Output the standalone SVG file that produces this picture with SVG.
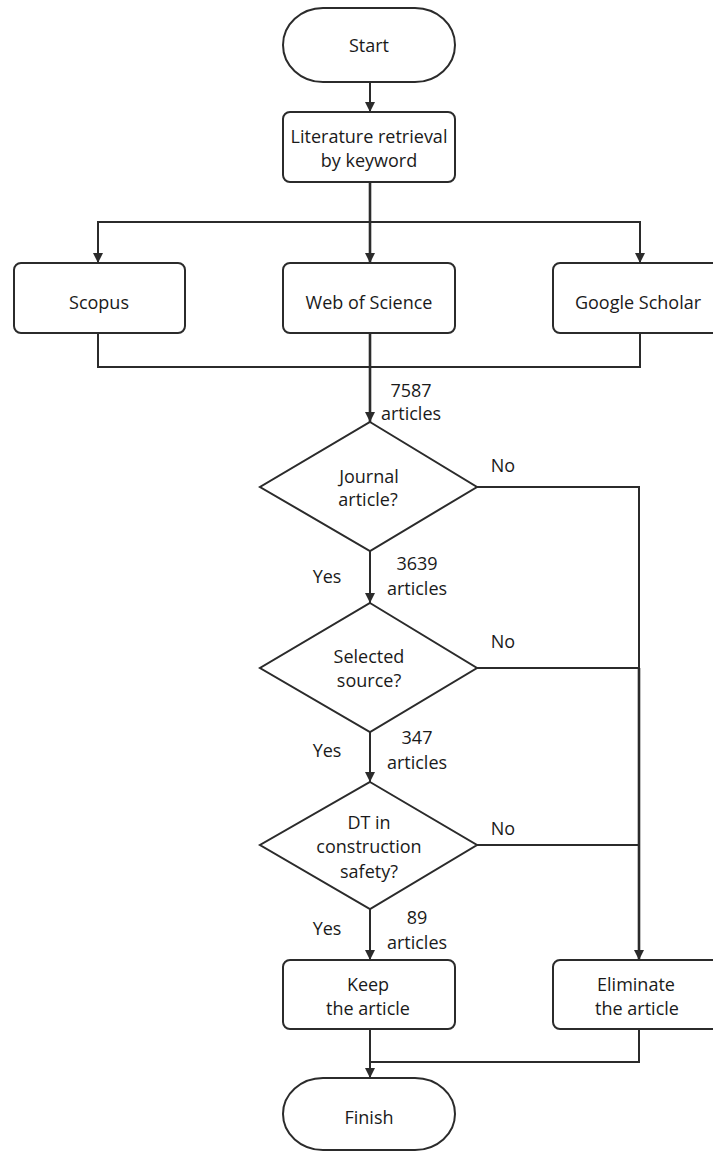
<svg xmlns="http://www.w3.org/2000/svg" width="713" height="1153" viewBox="0 0 713 1153">
<style>
.box{fill:#fff;stroke:#2b2b2b;stroke-width:2}
.ln{fill:none;stroke:#2b2b2b;stroke-width:2}
.thk{stroke-width:2.6}
text{font-family:"Open Sans","Noto Sans","Liberation Sans",sans-serif;font-size:18px;fill:#1a1a1a;text-anchor:middle}
</style>
<defs>
<marker id="ah" viewBox="0 0 10 10" refX="10" refY="5" markerWidth="10" markerHeight="10" markerUnits="userSpaceOnUse" orient="auto">
<path d="M0,0 L10,5 L0,10 Z" fill="#2b2b2b"/>
</marker>
</defs>
<rect width="713" height="1153" fill="#fff"/>
<g id="connectors">
<path class="ln" d="M370,82 V112" marker-end="url(#ah)"/>
<path class="ln thk" d="M370,182 V263" marker-end="url(#ah)"/>
<path class="ln" d="M98,263 V222 H640 V263" />
<path class="ln" d="M98,253 V263" marker-end="url(#ah)"/>
<path class="ln" d="M640,253 V263" marker-end="url(#ah)"/>
<path class="ln" d="M98,333 V367 H640 V333"/>
<path class="ln thk" d="M370,333 V422" marker-end="url(#ah)"/>
<path class="ln" d="M370,551 V603" marker-end="url(#ah)"/>
<path class="ln" d="M370,732 V782" marker-end="url(#ah)"/>
<path class="ln" d="M370,909 V960" marker-end="url(#ah)"/>
<path class="ln" d="M477,487 H639 V668"/>
<path class="ln thk" d="M639,668 V960" marker-end="url(#ah)"/>
<path class="ln" d="M477,668 H639"/>
<path class="ln" d="M477,845 H639"/>
<path class="ln" d="M370,1029 V1078" marker-end="url(#ah)"/>
<path class="ln" d="M639,1029 V1062 H370"/>
<text x="411" y="397">7587</text>
<text x="411" y="420">articles</text>
<text x="503" y="472">No</text>
<text x="327" y="583">Yes</text>
<text x="417" y="570">3639</text>
<text x="417" y="595">articles</text>
<text x="503" y="648">No</text>
<text x="327" y="757">Yes</text>
<text x="417" y="744">347</text>
<text x="417" y="769">articles</text>
<text x="503" y="835">No</text>
<text x="327" y="935">Yes</text>
<text x="417" y="924">89</text>
<text x="417" y="949">articles</text>
</g>
<g id="start">
<rect class="box" x="283" y="8" width="172" height="74" rx="40" ry="37"/>
<text x="369" y="52">Start</text>
</g>
<g id="literature">
<rect class="box" x="283" y="112" width="172" height="70" rx="7"/>
<text x="369" y="143">Literature retrieval</text>
<text x="369" y="167">by keyword</text>
</g>
<g id="scopus">
<rect class="box" x="14" y="263" width="171" height="70" rx="7"/>
<text x="99" y="309">Scopus</text>
</g>
<g id="wos">
<rect class="box" x="283" y="263" width="172" height="70" rx="7"/>
<text x="369" y="309">Web of Science</text>
</g>
<g id="google">
<rect class="box" x="553" y="263" width="171" height="70" rx="7"/>
<text x="638" y="309">Google Scholar</text>
</g>
<g id="d1">
<polygon class="box" points="370,422 477,487 370,551 260,487"/>
<text x="369" y="483">Journal</text>
<text x="368" y="506">article?</text>
</g>
<g id="d2">
<polygon class="box" points="370,603 477,668 370,732 260,668"/>
<text x="369" y="663">Selected</text>
<text x="369" y="687">source?</text>
</g>
<g id="d3">
<polygon class="box" points="370,782 477,845 370,909 260,845"/>
<text x="369" y="829">DT in</text>
<text x="369" y="853">construction</text>
<text x="369" y="878">safety?</text>
</g>
<g id="keep">
<rect class="box" x="283" y="960" width="172" height="69" rx="7"/>
<text x="368" y="991">Keep</text>
<text x="368" y="1015">the article</text>
</g>
<g id="eliminate">
<rect class="box" x="553" y="960" width="171" height="69" rx="7"/>
<text x="636" y="991">Eliminate</text>
<text x="637" y="1015">the article</text>
</g>
<g id="finish">
<rect class="box" x="283" y="1078" width="172" height="72" rx="40" ry="36"/>
<text x="369" y="1124">Finish</text>
</g>
</svg>
